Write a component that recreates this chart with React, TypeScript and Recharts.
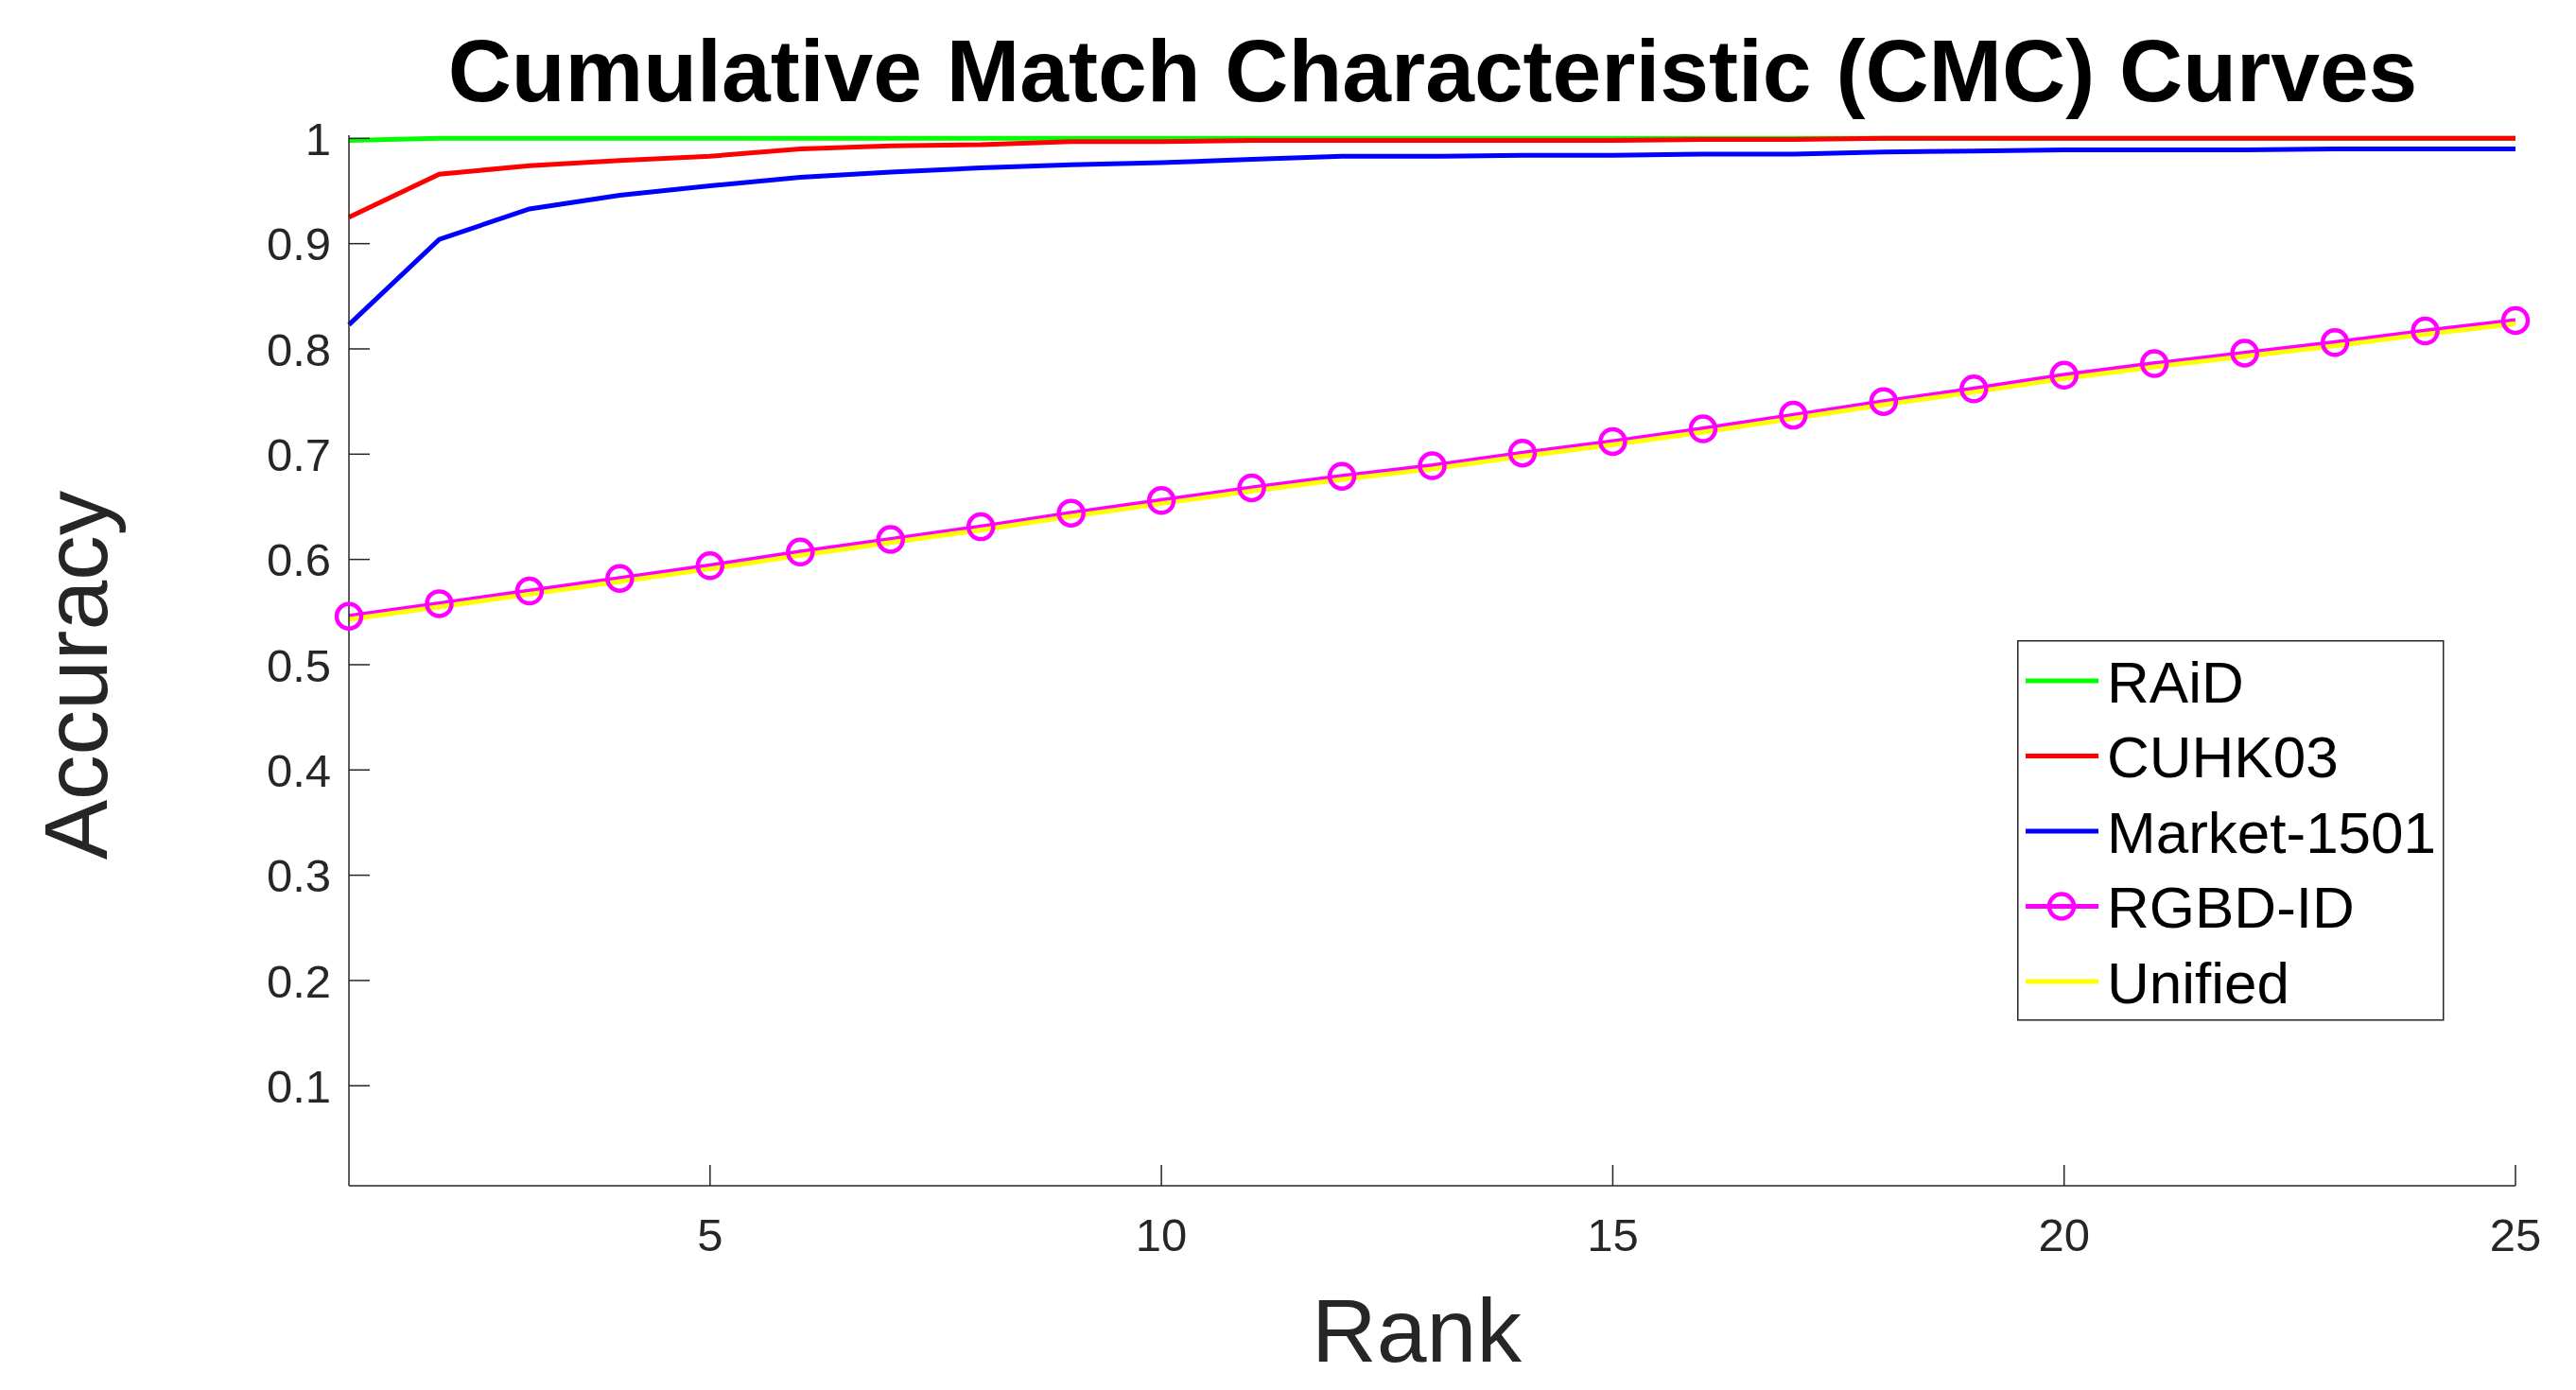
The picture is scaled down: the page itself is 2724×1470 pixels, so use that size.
import { LineChart, Line, XAxis, YAxis, Legend } from 'recharts'

const FONT = '"Liberation Sans", Arial, Helvetica, sans-serif'
const AXIS_COLOR = '#262626'

const ranks = [1, 2, 3, 4, 5, 6, 7, 8, 9, 10, 11, 12, 13, 14, 15, 16, 17, 18, 19, 20, 21, 22, 23, 24, 25]
const raid = [0.998, 1, 1, 1, 1, 1, 1, 1, 1, 1, 1, 1, 1, 1, 1, 1, 1, 1, 1, 1, 1, 1, 1, 1, 1]
const cuhk03 = [0.925, 0.966, 0.974, 0.979, 0.983, 0.99, 0.993, 0.994, 0.997, 0.997, 0.998, 0.998, 0.998, 0.998, 0.998, 0.999, 0.999, 1, 1, 1, 1, 1, 1, 1, 1]
const market1501 = [0.823, 0.904, 0.933, 0.946, 0.955, 0.963, 0.968, 0.972, 0.975, 0.977, 0.98, 0.983, 0.983, 0.984, 0.984, 0.985, 0.985, 0.987, 0.988, 0.989, 0.989, 0.989, 0.99, 0.99, 0.99]
const rgbdId = [0.546, 0.558, 0.57, 0.582, 0.594, 0.607, 0.619, 0.631, 0.644, 0.656, 0.668, 0.679, 0.689, 0.701, 0.712, 0.724, 0.737, 0.75, 0.762, 0.775, 0.786, 0.796, 0.806, 0.817, 0.827]
const unified = [0.543, 0.555, 0.567, 0.579, 0.591, 0.604, 0.616, 0.628, 0.641, 0.653, 0.665, 0.676, 0.686, 0.698, 0.709, 0.721, 0.734, 0.747, 0.759, 0.772, 0.783, 0.793, 0.803, 0.814, 0.824]

const xTicks = [5, 10, 15, 20, 25]
const yTicks = [0.1, 0.2, 0.3, 0.4, 0.5, 0.6, 0.7, 0.8, 0.9, 1]

const series = [
  { key: 'raid', name: 'RAiD', color: '#00FF00', marker: false },
  { key: 'cuhk03', name: 'CUHK03', color: '#FF0000', marker: false },
  { key: 'market', name: 'Market-1501', color: '#0000FF', marker: false },
  { key: 'rgbd', name: 'RGBD-ID', color: '#FF00FF', marker: true },
  { key: 'unified', name: 'Unified', color: '#FFFF00', marker: false },
]

const data = ranks.map((rank, i) => ({
  rank,
  raid: raid[i],
  cuhk03: cuhk03[i],
  market: market1501[i],
  rgbd: rgbdId[i],
  unified: unified[i],
}))

function YTick({ x, y, payload }: any) {
  return (
    <g>
      <text x={x} y={y} dy="0.36em" textAnchor="end" fontSize={49} fontFamily={FONT} fill={AXIS_COLOR}>
        {String(payload.value)}
      </text>
      <line x1={x + 19} x2={x + 41} y1={y} y2={y} stroke={AXIS_COLOR} strokeWidth={1.5} />
    </g>
  )
}

function XTick({ x, y, payload }: any) {
  return (
    <g>
      <text x={x} y={y} dy="0.72em" textAnchor="middle" fontSize={49} fontFamily={FONT} fill={AXIS_COLOR}>
        {String(payload.value)}
      </text>
      <line x1={x} x2={x} y1={y - 34} y2={y - 56} stroke={AXIS_COLOR} strokeWidth={1.5} />
    </g>
  )
}

function LegendBox() {
  return (
    <svg width={452} height={403} style={{ display: 'block' }}>
      <rect x={0.75} y={0.75} width={450} height={401} fill="#fff" stroke={AXIS_COLOR} strokeWidth={1.5} />
      {series.map((s, i) => {
        const cy = 43 + i * 79.5
        return (
          <g key={s.key}>
            <line x1={9} x2={86} y1={cy} y2={cy} stroke={s.color} strokeWidth={5} />
            {s.marker && <circle cx={47} cy={cy} r={13} fill="none" stroke={s.color} strokeWidth={4.5} />}
            <text x={95} y={cy} dy="0.37em" fontSize={62} fontFamily={FONT} fill="#000">
              {s.name}
            </text>
          </g>
        )
      })}
    </svg>
  )
}

export default function App() {
  return (
    <div style={{ position: 'absolute', left: 0, top: 0, width: 2724, height: 1470, background: '#fff' }}>
      <LineChart
        width={2724}
        height={1470}
        data={data}
        margin={{ top: 143, right: 64, bottom: 156, left: 0 }}
      >
        <XAxis
          dataKey="rank"
          type="number"
          domain={[1, 25]}
          ticks={xTicks}
          height={60}
          tickSize={0}
          tickMargin={34}
          tick={<XTick />}
          axisLine={{ stroke: AXIS_COLOR, strokeWidth: 1.5 }}
          tickLine={false}
        />
        <YAxis
          type="number"
          domain={[0.005, 1.003]}
          allowDataOverflow
          ticks={yTicks}
          width={369}
          tickSize={0}
          tickMargin={19}
          tick={<YTick />}
          axisLine={{ stroke: AXIS_COLOR, strokeWidth: 1.5 }}
          tickLine={false}
        />
        <Legend
          layout="horizontal"
          align="center"
          verticalAlign="middle"
          content={() => <LegendBox />}
          wrapperStyle={{ left: 2133, top: 677, width: 452, height: 403 }}
        />
        {series.map((s) => (
          <Line
            key={s.key}
            type="linear"
            dataKey={s.key}
            name={s.name}
            stroke={s.color}
            strokeWidth={5}
            dot={s.marker ? { r: 13, stroke: s.color, strokeWidth: 4.5, fill: 'none' } : false}
            activeDot={false}
            isAnimationActive={false}
          />
        ))}
      </LineChart>
      <svg
        width={2724}
        height={1470}
        style={{ position: 'absolute', left: 0, top: 0, pointerEvents: 'none' }}
      >
        <text x={1515} y={107} textAnchor="middle" fontSize={93} fontWeight="bold" fontFamily={FONT} fill="#000">
          Cumulative Match Characteristic (CMC) Curves
        </text>
        <text x={1498} y={1440} textAnchor="middle" fontSize={95} fontFamily={FONT} fill={AXIS_COLOR}>
          Rank
        </text>
        <text
          x={113}
          y={714}
          textAnchor="middle"
          fontSize={95}
          fontFamily={FONT}
          fill={AXIS_COLOR}
          transform="rotate(-90 113 714)"
        >
          Accuracy
        </text>
      </svg>
    </div>
  )
}
